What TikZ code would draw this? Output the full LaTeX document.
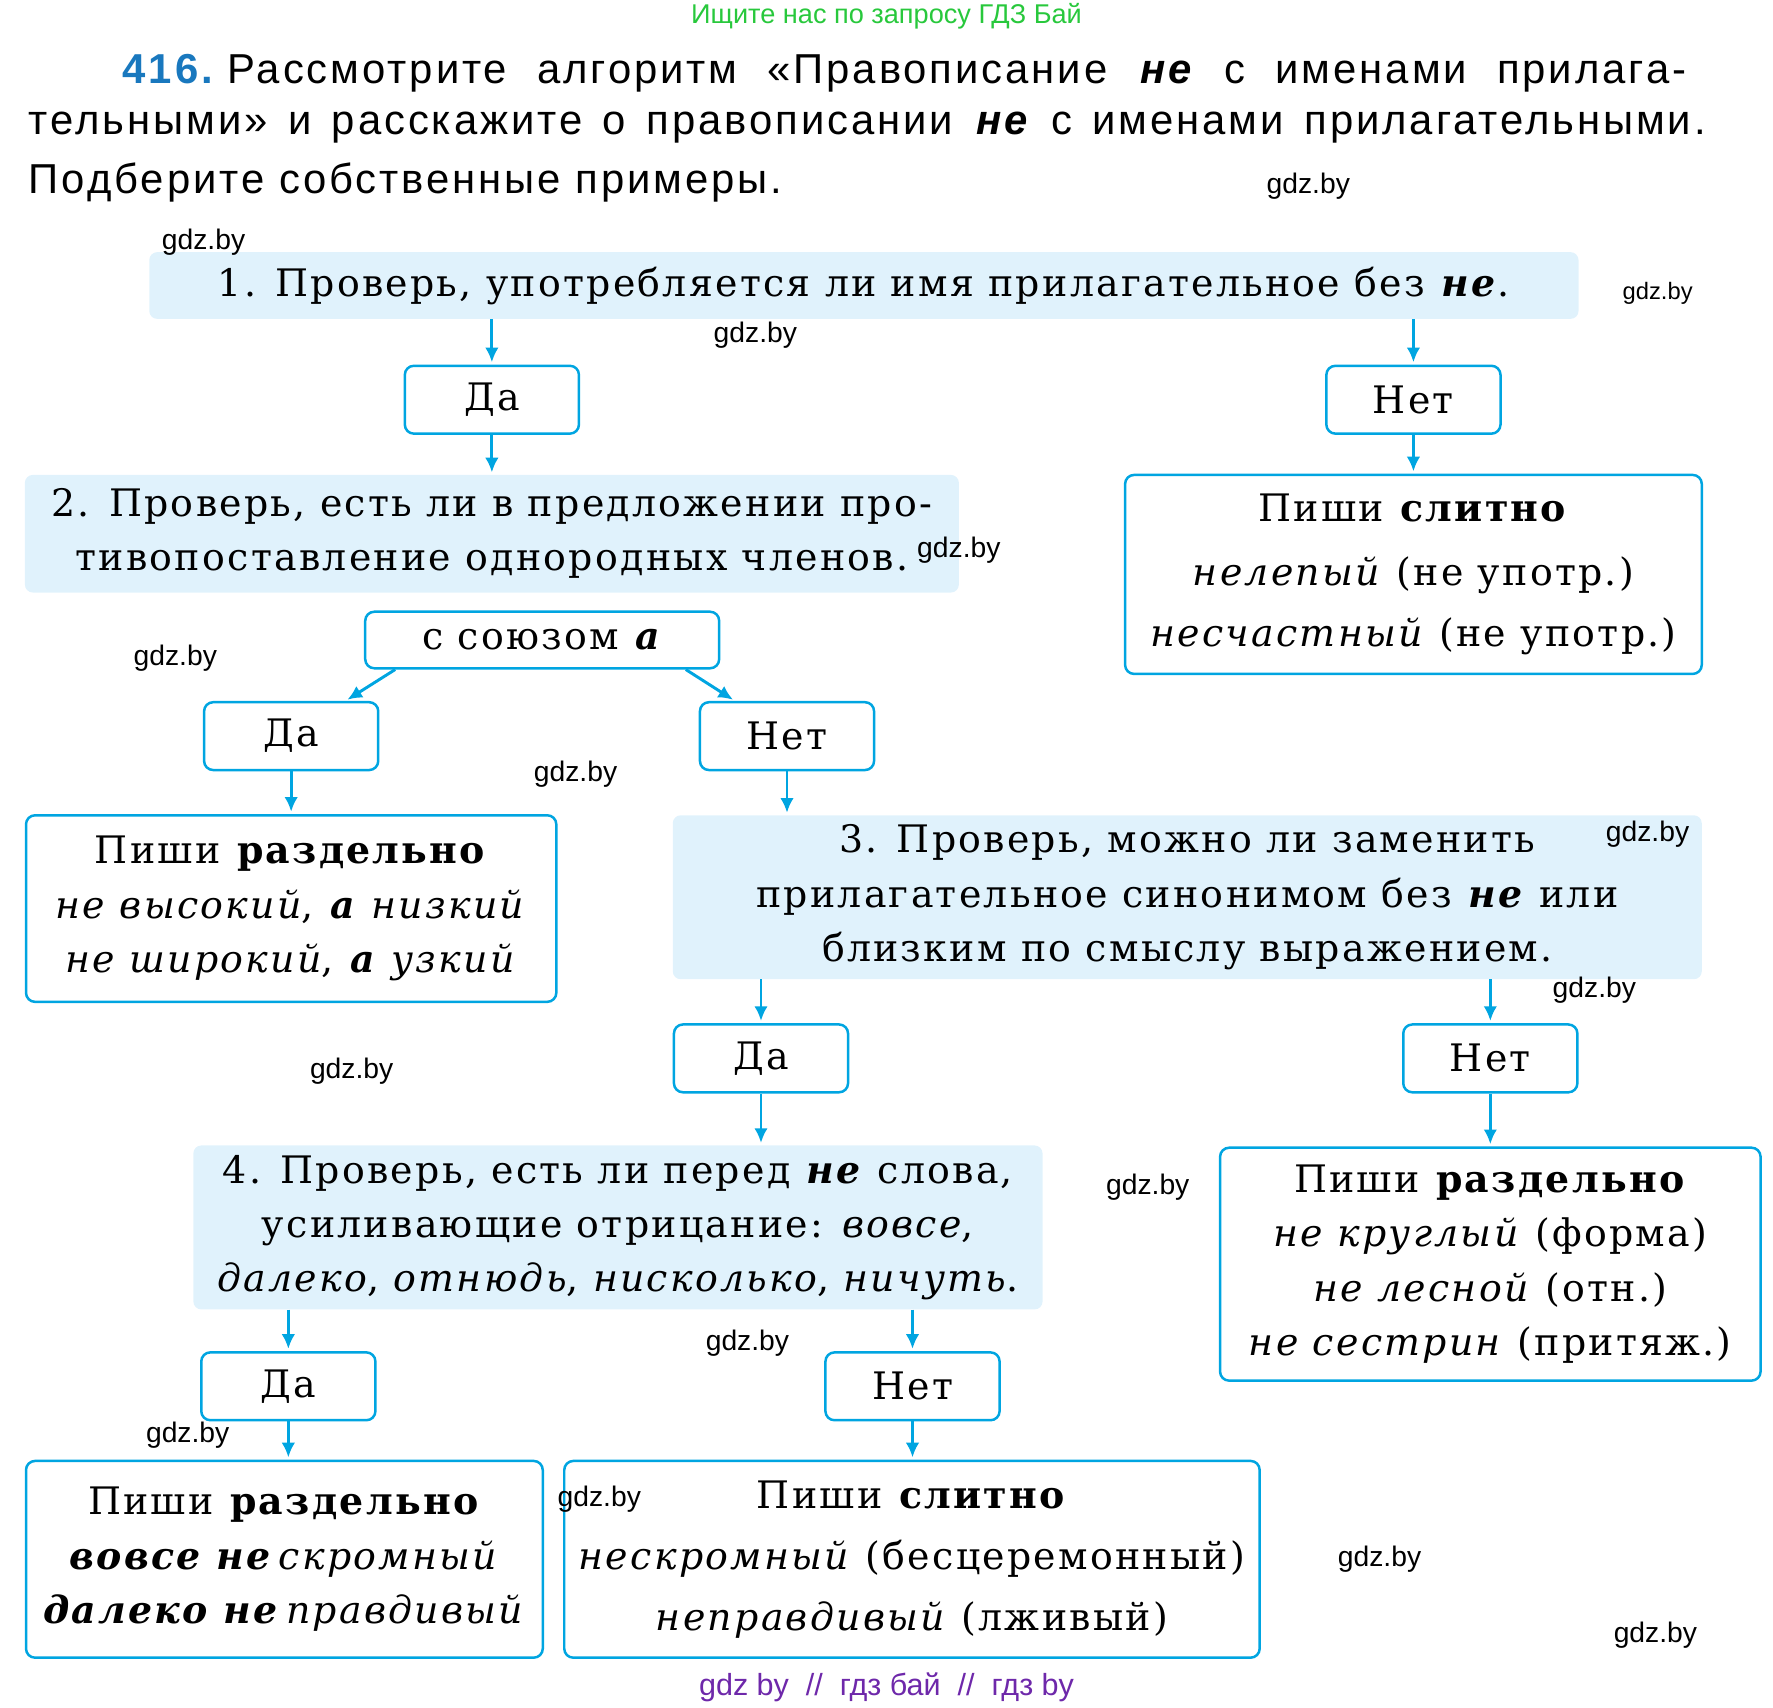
\documentclass[tikz,border=0pt]{standalone}
\usepackage{fontspec}
\setmainfont{DejaVu Serif}[LetterSpace=6]
\newfontfamily\hsans{Liberation Sans}
\newfontfamily\hsansw{Liberation Sans}[LetterSpace=7]
\usetikzlibrary{arrows.meta}
\definecolor{lb}{RGB}{0,165,225}
\definecolor{fl}{RGB}{224,242,252}
\definecolor{nb}{RGB}{25,120,190}
\definecolor{gr}{RGB}{40,200,60}
\definecolor{pu}{RGB}{110,40,170}
\begin{document}
\begin{tikzpicture}[x=1pt,y=-1pt,
 fb/.style={fill=fl,rounded corners=7pt,inner sep=0pt,align=center,font=\fontsize{33.5}{48}\selectfont},
 wb/.style={draw=lb,line width=2.2pt,fill=white,rounded corners=8pt,inner sep=0pt,align=center,font=\fontsize{33.5}{48}\selectfont},
 yn/.style={wb,minimum width=154,minimum height=60},
 arr/.style={lb,line width=2.6pt,-{Latex[length=13pt,width=12pt]},shorten >=2pt},
 wm/.style={font=\hsans\fontsize{25}{27}\selectfont}]
\useasboundingbox (0,0) rectangle (1568,1510);
\node[font=\hsans\fontsize{24}{26}\selectfont,text=gr] (top) at (784,14) {Ищите нас по запросу ГДЗ Бай};
\node[anchor=west,font=\hsansw\fontsize{37}{40}\selectfont] (h1) at (105,65) {\textcolor{nb}{\bfseries 416.}\ \makebox[1290pt][s]{Рассмотрите алгоритм «Правописание \textbf{\textit{не}} с именами прилага-}};
\node[anchor=west,font=\hsansw\fontsize{37}{40}\selectfont] (h2) at (22,113) {\makebox[1483pt][s]{тельными» и расскажите о правописании \textbf{\textit{не}} с именами прилагательными.}};
\node[anchor=west,font=\hsansw\fontsize{37}{40}\selectfont] (h3) at (22,161) {Подберите собственные примеры.};

\node[fb,minimum width=1264,minimum height=59] (b1) at (764,252.5) {1. Проверь, употребляется ли имя прилагательное без \textbf{\textit{не}}.};
\node[yn] (da1) at (435,353.5) {Да};
\node[yn] (net1) at (1250,353.5) {Нет};
\node[fb,minimum width=826,minimum height=104] (b2) at (435,472) {2. Проверь, есть ли в предложении про-\\тивопоставление однородных членов.};
\node[wb,minimum width=510,minimum height=176] (r1) at (1250,508) {Пиши \textbf{слитно}\\[8pt]\textit{нелепый} (не употр.)\\[6pt]\textit{несчастный} (не употр.)};
\node[wb,minimum width=313,minimum height=50] (cs) at (479.5,566) {с союзом \textbf{\textit{а}}};
\node[yn] (da2) at (257.5,651) {Да};
\node[yn] (net2) at (696,651) {Нет};
\node[wb,minimum width=469,minimum height=165] (r2) at (257.5,803.5) {Пиши \textbf{раздельно}\\\textit{не высокий}, \textbf{\textit{а}} \textit{низкий}\\\textit{не широкий}, \textbf{\textit{а}} \textit{узкий}};
\node[fb,minimum width=910,minimum height=145] (b3) at (1050,793.5) {3. Проверь, можно ли заменить\\прилагательное синонимом без \textbf{\textit{не}} или\\близким по смыслу выражением.};
\node[yn] (da3) at (673,936) {Да};
\node[yn] (net3) at (1318,936) {Нет};
\node[fb,minimum width=751,minimum height=145] (b4) at (546.5,1085.5) {4. Проверь, есть ли перед \textbf{\textit{не}} слова,\\усиливающие отрицание: \textit{вовсе},\\\textit{далеко}, \textit{отнюдь}, \textit{нисколько}, \textit{ничуть}.};
\node[wb,minimum width=478,minimum height=206] (r3) at (1318,1118) {Пиши \textbf{раздельно}\\\textit{не круглый} (форма)\\\textit{не лесной} (отн.)\\\textit{не сестрин} (притяж.)};
\node[yn] (da4) at (255,1226) {Да};
\node[yn] (net4) at (807,1226) {Нет};
\node[wb,minimum width=457,minimum height=174] (r4) at (251.5,1379) {Пиши \textbf{раздельно}\\\textbf{\textit{вовсе не}}\,\textit{скромный}\\\textbf{\textit{далеко не}}\,\textit{правдивый}};
\node[wb,minimum width=615,minimum height=174] (r5) at (806.5,1379) {Пиши \textbf{слитно}\\[6pt]\textit{нескромный} (бесцеремонный)\\[6pt]\textit{неправдивый} (лживый)};

\draw[arr] (da1.north |- b1.south) -- (da1.north);
\draw[arr] (net1.north |- b1.south) -- (net1.north);
\draw[arr] (da1.south) -- (da1.south |- b2.north);
\draw[arr] (net1.south) -- (r1.north);
\draw[arr] ([xshift=-130pt]cs.south) -- ([xshift=48pt]da2.north);
\draw[arr] ([xshift=127pt]cs.south) -- ([xshift=-46pt]net2.north);
\draw[arr] (da2.south) -- (r2.north);
\draw[arr] (net2.south) -- (net2.south |- b3.north);
\draw[arr] (da3.north |- b3.south) -- (da3.north);
\draw[arr] (net3.north |- b3.south) -- (net3.north);
\draw[arr] (da3.south) -- (da3.south |- b4.north);
\draw[arr] (net3.south) -- (net3.south |- r3.north);
\draw[arr] (da4.north |- b4.south) -- (da4.north);
\draw[arr] (net4.north |- b4.south) -- (net4.north);
\draw[arr] (da4.south) -- (da4.south |- r4.north);
\draw[arr] (net4.south) -- (net4.south |- r5.north);

\foreach \x/\y/\n in {180/214/w1,1157/165/w2,668/296/w4,848/487/w5,155/582/w6,509/685/w7,1457/738/w8,1410/876/w9,311/947/w10,1015/1050/w11,661/1188/w12,166/1269/w13,530/1326/w14,1220/1379/w15,1464/1446/w16}
  \node[wm] (\n) at (\x,\y) {gdz.by};
\node[font=\hsans\fontsize{21}{22}\selectfont] (w3) at (1466,259) {gdz.by};
\node[font=\hsans\fontsize{27}{28}\selectfont,text=pu] (bot) at (784,1492) {gdz by \ // \ гдз бай \ // \ гдз by};
\end{tikzpicture}
\end{document}
